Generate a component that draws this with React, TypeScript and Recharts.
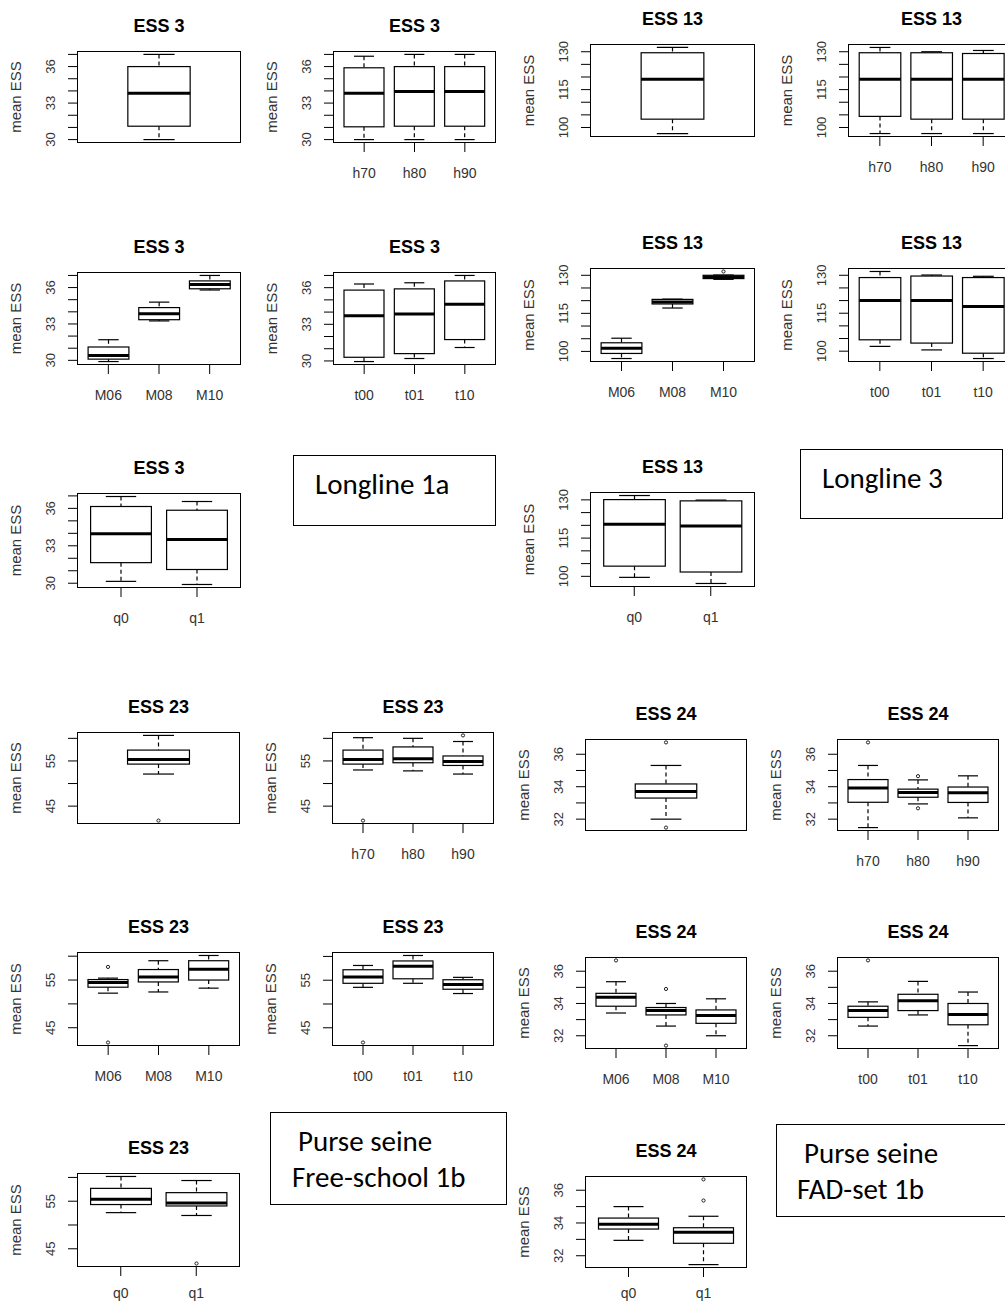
import { ComposedChart, Bar, XAxis, YAxis, Label } from "recharts"

type Five = [number, number, number, number, number] // [low whisker, q1, median, q3, high whisker]

// category labels
const NONE = [""]
const HOOKS = ["h70", "h80", "h90"]
const MONTHS = ["M06", "M08", "M10"]
const TIMES = ["t00", "t01", "t10"]
const QS = ["q0", "q1"]

// y axis ticks / labelled ticks
const ESS3_TICKS = [30, 31, 32, 33, 34, 35, 36, 37]
const ESS3_LABELS = [30, 33, 36]
const ESS13_TICKS = [100, 105, 110, 115, 120, 125, 130]
const ESS13_LABELS = [100, 115, 130]
const ESS23_TICKS = [45, 50, 55, 60]
const ESS23_LABELS = [45, 55]
const ESS24_TICKS = [32, 33, 34, 35, 36]
const ESS24_LABELS = [32, 34, 36]

// Longline 1a - ESS 3
const ess3All: Five[] = [[30.0, 31.1, 33.8, 36.0, 37.0]]
const ess3Hook: Five[] = [
  [30.0, 31.05, 33.8, 35.9, 36.85],
  [30.0, 31.1, 33.95, 36.0, 37.0],
  [30.0, 31.1, 33.95, 36.0, 37.0],
]
const ess3Month: Five[] = [
  [29.9, 30.1, 30.4, 31.1, 31.7],
  [33.25, 33.35, 33.85, 34.35, 34.8],
  [35.8, 35.9, 36.25, 36.55, 37.0],
]
const ess3Time: Five[] = [
  [29.95, 30.3, 33.7, 35.8, 36.3],
  [30.2, 30.6, 33.85, 35.9, 36.4],
  [31.1, 31.75, 34.65, 36.55, 37.0],
]
const ess3Q: Five[] = [
  [30.15, 31.65, 33.97, 36.15, 36.95],
  [29.9, 31.1, 33.5, 35.85, 36.55],
]

// Longline 3 - ESS 13
const ess13All: Five[] = [[97.6, 103.3, 119.1, 129.6, 131.7]]
const ess13Hook: Five[] = [
  [97.6, 104.4, 119.1, 129.6, 131.7],
  [97.6, 103.3, 119.1, 129.6, 130.0],
  [97.6, 103.3, 119.1, 129.3, 130.5],
]
const ess13Month: Five[] = [
  [97.2, 99.2, 101.2, 103.4, 105.2],
  [117.1, 118.7, 119.5, 120.5, 120.6],
  [128.4, 128.7, 129.3, 130.0, 130.1],
]
const ess13MonthOut = [[], [], [131.5]]
const ess13Time: Five[] = [
  [101.9, 104.5, 120.0, 129.1, 131.5],
  [100.5, 103.2, 120.0, 129.7, 130.1],
  [97.1, 99.2, 117.7, 129.1, 129.6],
]
const ess13Q: Five[] = [
  [99.6, 104.0, 120.4, 130.1, 131.7],
  [97.2, 101.7, 119.7, 129.6, 129.9],
]

// Purse seine free-school 1b - ESS 23
const ess23All: Five[] = [[52.1, 54.3, 55.3, 57.4, 60.65]]
const ess23AllOut = [[41.8]]
const ess23Hook: Five[] = [
  [53.0, 54.3, 55.3, 57.4, 60.15],
  [52.8, 54.6, 55.5, 58.1, 60.0],
  [52.1, 54.0, 54.85, 56.1, 59.3],
]
const ess23HookOut = [[41.8], [], [60.65]]
const ess23Month: Five[] = [
  [52.25, 53.5, 54.5, 55.1, 55.4],
  [52.5, 54.6, 55.65, 57.2, 59.05],
  [53.3, 55.0, 57.25, 59.05, 60.15],
]
const ess23MonthOut = [[57.75, 41.9], [], []]
const ess23Time: Five[] = [
  [53.5, 54.35, 55.65, 57.2, 58.1],
  [54.35, 55.3, 57.95, 59.05, 60.2],
  [52.2, 53.1, 54.1, 55.1, 55.6],
]
const ess23TimeOut = [[41.9], [], []]
const ess23Q: Five[] = [
  [52.6, 54.3, 55.4, 57.7, 60.2],
  [52.0, 54.0, 54.6, 56.8, 59.35],
]
const ess23QOut = [[], [41.9]]

// Purse seine FAD-set 1b - ESS 24
const ess24All: Five[] = [[32.0, 33.3, 33.7, 34.17, 35.31]]
const ess24AllOut = [[36.73, 31.48]]
const ess24Hook: Five[] = [
  [31.48, 33.04, 33.92, 34.44, 35.31],
  [32.94, 33.35, 33.65, 33.85, 34.42],
  [32.08, 33.03, 33.63, 33.98, 34.67],
]
const ess24HookOut = [[36.73], [34.65, 32.67], []]
const ess24Month: Five[] = [
  [33.41, 33.83, 34.38, 34.63, 35.35],
  [32.6, 33.29, 33.56, 33.75, 34.0],
  [32.0, 32.77, 33.25, 33.6, 34.29],
]
const ess24MonthOut = [[36.67], [34.9, 31.39], []]
const ess24Time: Five[] = [
  [32.6, 33.14, 33.56, 33.83, 34.1],
  [33.29, 33.56, 34.17, 34.57, 35.37],
  [31.39, 32.68, 33.31, 34.0, 34.71],
]
const ess24TimeOut = [[36.67], [], []]
const ess24Q: Five[] = [
  [32.94, 33.63, 33.92, 34.3, 35.0],
  [31.46, 32.76, 33.44, 33.71, 34.41],
]
const ess24QOut = [[], [36.66, 35.37]]

const YW = 75 // room left of the plot frame
const TOP = 45 // room above the frame (title)
const XH = 45 // room below the frame (x ticks)
const FONT = '"Liberation Sans", Arial, sans-serif'

interface PanelDef {
  title: string
  cats: string[]
  boxes: Five[]
  outs?: number[][]
  ticks: number[]
  labels: number[]
  bx: number
  by: number
  bw: number
  bh: number
  xGap?: number
}

const PANELS: PanelDef[] = [
  { title: "ESS 3", cats: NONE, boxes: ess3All, ticks: ESS3_TICKS, labels: ESS3_LABELS, bx: 77, by: 51, bw: 164, bh: 92 },
  { title: "ESS 3", cats: HOOKS, boxes: ess3Hook, ticks: ESS3_TICKS, labels: ESS3_LABELS, bx: 333, by: 51, bw: 163, bh: 92 },
  { title: "ESS 13", cats: NONE, boxes: ess13All, ticks: ESS13_TICKS, labels: ESS13_LABELS, bx: 590, by: 44, bw: 165, bh: 93 },
  { title: "ESS 13", cats: HOOKS, boxes: ess13Hook, ticks: ESS13_TICKS, labels: ESS13_LABELS, bx: 848, by: 44, bw: 167, bh: 93 },
  { title: "ESS 3", cats: MONTHS, boxes: ess3Month, ticks: ESS3_TICKS, labels: ESS3_LABELS, bx: 77, by: 272, bw: 164, bh: 93 },
  { title: "ESS 3", cats: TIMES, boxes: ess3Time, ticks: ESS3_TICKS, labels: ESS3_LABELS, bx: 333, by: 272, bw: 163, bh: 93 },
  { title: "ESS 13", cats: MONTHS, boxes: ess13Month, outs: ess13MonthOut, ticks: ESS13_TICKS, labels: ESS13_LABELS, bx: 590, by: 268, bw: 165, bh: 94 },
  { title: "ESS 13", cats: TIMES, boxes: ess13Time, ticks: ESS13_TICKS, labels: ESS13_LABELS, bx: 848, by: 268, bw: 167, bh: 94 },
  { title: "ESS 3", cats: QS, boxes: ess3Q, ticks: ESS3_TICKS, labels: ESS3_LABELS, bx: 77, by: 493, bw: 164, bh: 95 },
  { title: "ESS 13", cats: QS, boxes: ess13Q, ticks: ESS13_TICKS, labels: ESS13_LABELS, bx: 590, by: 492, bw: 165, bh: 95 },
  { title: "ESS 23", cats: NONE, boxes: ess23All, outs: ess23AllOut, ticks: ESS23_TICKS, labels: ESS23_LABELS, bx: 77, by: 732, bw: 163, bh: 92 },
  { title: "ESS 23", cats: HOOKS, boxes: ess23Hook, outs: ess23HookOut, ticks: ESS23_TICKS, labels: ESS23_LABELS, bx: 332, by: 732, bw: 162, bh: 92 },
  { title: "ESS 24", cats: NONE, boxes: ess24All, outs: ess24AllOut, ticks: ESS24_TICKS, labels: ESS24_LABELS, bx: 585, by: 739, bw: 162, bh: 92 },
  { title: "ESS 24", cats: HOOKS, boxes: ess24Hook, outs: ess24HookOut, ticks: ESS24_TICKS, labels: ESS24_LABELS, bx: 837, by: 739, bw: 162, bh: 92 },
  { title: "ESS 23", cats: MONTHS, boxes: ess23Month, outs: ess23MonthOut, ticks: ESS23_TICKS, labels: ESS23_LABELS, bx: 77, by: 952, bw: 163, bh: 94 },
  { title: "ESS 23", cats: TIMES, boxes: ess23Time, outs: ess23TimeOut, ticks: ESS23_TICKS, labels: ESS23_LABELS, bx: 332, by: 952, bw: 162, bh: 94 },
  { title: "ESS 24", cats: MONTHS, boxes: ess24Month, outs: ess24MonthOut, ticks: ESS24_TICKS, labels: ESS24_LABELS, bx: 585, by: 957, bw: 162, bh: 92 },
  { title: "ESS 24", cats: TIMES, boxes: ess24Time, outs: ess24TimeOut, ticks: ESS24_TICKS, labels: ESS24_LABELS, bx: 837, by: 957, bw: 162, bh: 92 },
  { title: "ESS 23", cats: QS, boxes: ess23Q, outs: ess23QOut, ticks: ESS23_TICKS, labels: ESS23_LABELS, bx: 77, by: 1173, bw: 163, bh: 94, xGap: 12 },
  { title: "ESS 24", cats: QS, boxes: ess24Q, outs: ess24QOut, ticks: ESS24_TICKS, labels: ESS24_LABELS, bx: 585, by: 1176, bw: 162, bh: 92, xGap: 11 },
]

// draws one R-style box (whiskers, box, median, outliers) inside the bar's [lo, hi] rect
function BoxShape(props: any) {
  const { x, y, width, height, frac } = props
  const d = props.payload || props
  const cx = x + width / 2
  const w = width * frac
  const top = Math.min(y, y + height)
  const bot = Math.max(y, y + height)
  const py = (v: number) => bot - ((v - d.lo) / (d.hi - d.lo)) * (bot - top)
  return (
    <g>
      <line x1={cx} x2={cx} y1={py(d.hi)} y2={py(d.q3)} stroke="#000" strokeWidth={1.2} strokeDasharray="4 3" />
      <line x1={cx} x2={cx} y1={py(d.q1)} y2={py(d.lo)} stroke="#000" strokeWidth={1.2} strokeDasharray="4 3" />
      <line x1={cx - w / 4} x2={cx + w / 4} y1={py(d.hi)} y2={py(d.hi)} stroke="#000" strokeWidth={1.2} />
      <line x1={cx - w / 4} x2={cx + w / 4} y1={py(d.lo)} y2={py(d.lo)} stroke="#000" strokeWidth={1.2} />
      <rect x={cx - w / 2} y={py(d.q3)} width={w} height={py(d.q1) - py(d.q3)} fill="#fff" stroke="#000" strokeWidth={1.2} />
      <line x1={cx - w / 2} x2={cx + w / 2} y1={py(d.med)} y2={py(d.med)} stroke="#000" strokeWidth={3} />
      {(d.out || []).map((v: number, i: number) => (
        <circle key={i} cx={cx} cy={py(v)} r={1.6} fill="none" stroke="#222" />
      ))}
    </g>
  )
}

function BoxPanel({ title, cats, boxes, outs = [], ticks, labels, bx, by, bw, bh, xGap = 16 }: PanelDef) {
  const single = cats.length === 1
  const data = cats.map((name, i) => ({
    name,
    lo: boxes[i][0],
    q1: boxes[i][1],
    med: boxes[i][2],
    q3: boxes[i][3],
    hi: boxes[i][4],
    out: outs[i] || [],
  }))
  // R extends the data range by 4% on each side
  const vals = data.flatMap((d) => [d.lo, d.hi, ...d.out])
  const mn = Math.min(...vals)
  const mx = Math.max(...vals)
  const ext = (mx - mn) * 0.04
  const domain = [mn - ext, mx + ext]
  const shown = ticks.filter((t) => t >= domain[0] && t <= domain[1])
  const pad = Math.round(bw * 0.037)
  const frac = single ? 0.41 : 0.8

  const yTick = (p: any) =>
    labels.includes(p.payload.value) ? (
      <text
        x={p.x - 11}
        y={p.y}
        transform={`rotate(-90 ${p.x - 11} ${p.y})`}
        textAnchor="middle"
        fontSize={13}
        fill="#333"
      >
        {p.payload.value}
      </text>
    ) : (
      <g />
    )

  return (
    <div style={{ position: "absolute", left: bx - YW, top: by - TOP, width: YW + bw + 4, height: TOP + bh + XH }}>
      <div
        style={{
          position: "absolute",
          left: YW,
          width: bw,
          top: TOP - 26 - 9,
          height: 20,
          lineHeight: "20px",
          textAlign: "center",
          fontSize: 18,
          fontWeight: "bold",
          color: "#000",
        }}
      >
        {title}
      </div>
      <ComposedChart
        width={YW + bw + 4}
        height={TOP + bh + XH}
        data={data}
        margin={{ top: TOP, right: 4, bottom: 0, left: 0 }}
        barCategoryGap={0}
        barGap={0}
      >
        <XAxis
          xAxisId="b"
          dataKey="name"
          height={XH}
          padding={{ left: pad, right: pad }}
          interval={0}
          tickSize={9}
          tickMargin={xGap}
          tick={single ? false : { fontSize: 14, fill: "#333" }}
          tickLine={single ? false : { stroke: "#000" }}
          axisLine={false}
        />
        <YAxis
          yAxisId="l"
          width={YW}
          type="number"
          domain={domain}
          ticks={shown}
          interval={0}
          tickSize={9}
          tickMargin={2}
          tick={yTick}
          tickLine={{ stroke: "#000" }}
          axisLine={false}
          label={
            <Label
              content={(lp: any) => {
                const lx = lp.viewBox.x + 13
                const ly = lp.viewBox.y + lp.viewBox.height / 2
                return (
                  <text
                    x={lx}
                    y={ly}
                    transform={`rotate(-90 ${lx} ${ly})`}
                    textAnchor="middle"
                    dominantBaseline="central"
                    fontSize={15}
                    fill="#333"
                  >
                    mean ESS
                  </text>
                )
              }}
            />
          }
        />
        <Bar
          xAxisId="b"
          yAxisId="l"
          dataKey={(d: any) => [d.lo, d.hi]}
          isAnimationActive={false}
          shape={(p: any) => <BoxShape {...p} frac={frac} />}
        />
      </ComposedChart>
      {/* plot frame (R's box()) */}
      <div
        style={{
          position: "absolute",
          left: YW,
          top: TOP,
          width: bw,
          height: bh,
          boxSizing: "border-box",
          border: "1px solid #000",
          pointerEvents: "none",
        }}
      />
    </div>
  )
}

const boxStyle = (left: number, top: number, width: number, height: number): React.CSSProperties => ({
  position: "absolute",
  left,
  top,
  width,
  height,
  boxSizing: "border-box",
  border: "1.5px solid #000",
})

const txt = (left: number, top: number): React.CSSProperties => ({
  position: "absolute",
  left,
  top,
  fontSize: 29,
  lineHeight: "29px",
  fontFamily: "Carlito, Calibri, Lato, sans-serif",
  color: "#000",
  whiteSpace: "nowrap",
})

export default function App() {
  return (
    <div
      style={{
        position: "absolute",
        left: 0,
        top: 0,
        width: 1005,
        height: 1305,
        overflow: "hidden",
        background: "#fff",
        fontFamily: FONT,
      }}
    >
      {PANELS.map((p, i) => (
        <BoxPanel key={i} {...p} />
      ))}

      <div style={boxStyle(293, 455, 203, 71)} />
      <div style={txt(315, 470)}>Longline 1a</div>

      <div style={boxStyle(800, 449, 203, 70)} />
      <div style={txt(822, 464)}>Longline 3</div>

      <div style={boxStyle(270, 1112, 237, 93)} />
      <div style={txt(298, 1127)}>Purse seine</div>
      <div style={txt(292, 1163)}>Free-school 1b</div>

      <div style={boxStyle(776, 1124, 240, 93)} />
      <div style={txt(804, 1139)}>Purse seine</div>
      <div style={txt(797, 1175)}>FAD-set 1b</div>
    </div>
  )
}
